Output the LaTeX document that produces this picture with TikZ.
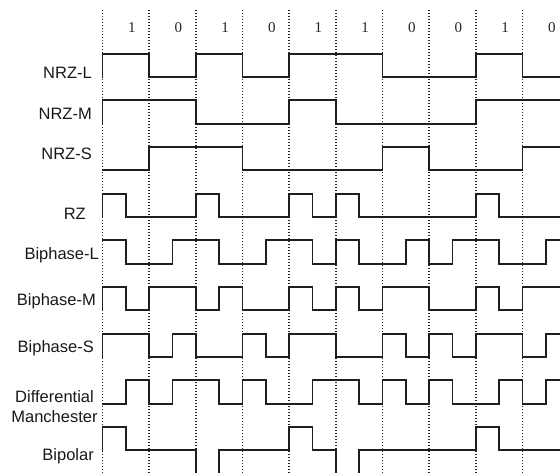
\documentclass[tikz,border=0pt]{standalone}
\usepackage{fontspec}
\newfontfamily\labelfont{Liberation Sans}
\newfontfamily\digitfont{Liberation Serif}
\begin{document}
\begin{tikzpicture}[x=1pt,y=-1pt,
  sig/.style={draw=black!88, line width=1.8pt, line join=miter, line cap=rect},
  gridline/.style={draw=black!85, line width=1.4pt, dash pattern=on 1.4pt off 1.6pt},
  lab/.style={font=\labelfont\fontsize{16.5}{19}\selectfont, text=black!90, inner sep=0pt, anchor=base east},
  bit/.style={font=\digitfont\fontsize{15}{15}\selectfont, text=black!85, inner sep=0pt, anchor=base}]
\useasboundingbox (0,0) rectangle (560,473);
\fill[white] (0,0) rectangle (560,473);
\clip (0,0) rectangle (560,473);

% labels
\node[lab] (lnrzl) at (92,79) {NRZ-L};
\node[lab] (lnrzm) at (92,119.5) {NRZ-M};
\node[lab] (lnrzs) at (92,160) {NRZ-S};
\node[lab] (lrz) at (86,220) {RZ};
\node[lab] (lbl) at (99,260) {Biphase-L};
\node[lab] (lbm) at (96,305.5) {Biphase-M};
\node[lab] (lbs) at (94,352.5) {Biphase-S};
\node[lab,anchor=base] (ldma) at (54.5,402) {Differential};
\node[lab,anchor=base] (ldmb) at (54.5,422) {Manchester};
\node[lab] (lbip) at (94,460) {Bipolar};

\begin{scope}[xshift=102.5pt, yshift=-53.7pt, x=23.333pt, y=-23.333pt]
  % grid
  \foreach \i in {0,2,...,18} \draw[gridline] (\i,-1.873) -- (\i,18.6);
  % bit digits
  \foreach \b [count=\k from 0] in {1,0,1,0,1,1,0,0,1,0}
    \node[bit] (bit\k) at ({2*\k+1.257},-0.9) {\b};
  % NRZ-L
  \draw[sig] (0,1) |- (2,0) |- (4,1) |- (6,0) |- (8,1) |- (12,0) |- (16,1) |- (18,0) |- (20,1);
  % NRZ-M
  \begin{scope}[shift={(0,2)}]
    \draw[sig] (0,1) |- (4,0) |- (8,1) |- (10,0) |- (16,1) |- (20,0);
  \end{scope}
  % NRZ-S
  \begin{scope}[shift={(0,4)}]
    \draw[sig] (0,1) -- (2,1) |- (6,0) |- (12,1) |- (14,0) |- (18,1) |- (20,0);
  \end{scope}
  % RZ
  \begin{scope}[shift={(0,6)}]
    \draw[sig] (0,1) |- (1,0) |- (4,1) |- (5,0) |- (8,1) |- (9,0) |- (10,1) |- (11,0) |- (16,1) |- (17,0) |- (20,1);
  \end{scope}
  % Biphase-L
  \begin{scope}[shift={(0,8)}]
    \draw[sig] (0,0) -- (1,0) |- (3,1) |- (5,0) |- (7,1) |- (9,0) |- (10,1) |- (11,0) |- (13,1) |- (14,0) |- (15,1) |- (17,0) |- (19,1) |- (20,0);
  \end{scope}
  % Biphase-M
  \begin{scope}[shift={(0,10)}]
    \draw[sig] (0,1) |- (1,0) |- (2,1) |- (4,0) |- (5,1) |- (6,0) |- (8,1) |- (9,0) |- (10,1) |- (11,0) |- (12,1) |- (14,0) |- (16,1) |- (17,0) |- (18,1) |- (20,0);
  \end{scope}
  % Biphase-S
  \begin{scope}[shift={(0,12)}]
    \draw[sig] (0,1) |- (2,0) |- (3,1) |- (4,0) |- (6,1) |- (7,0) |- (8,1) |- (10,0) |- (12,1) |- (13,0) |- (14,1) |- (15,0) |- (16,1) |- (18,0) |- (19,1) |- (20,0);
  \end{scope}
  % Differential Manchester
  \begin{scope}[shift={(0,14)}]
    \draw[sig] (0,1) -- (1,1) |- (2,0) |- (3,1) |- (5,0) |- (6,1) |- (7,0) |- (9,1) |- (11,0) |- (12,1) |- (13,0) |- (14,1) |- (15,0) |- (17,1) |- (18,0) |- (19,1) |- (20,0);
  \end{scope}
  % Bipolar
  \begin{scope}[shift={(0,16)}]
    \draw[sig] (0,1) |- (1,0) |- (4,1) |- (5,2) |- (8,1) |- (9,0) |- (10,1) |- (11,2) |- (16,1) |- (17,0) |- (20,1);
  \end{scope}
\end{scope}
\end{tikzpicture}
\end{document}
